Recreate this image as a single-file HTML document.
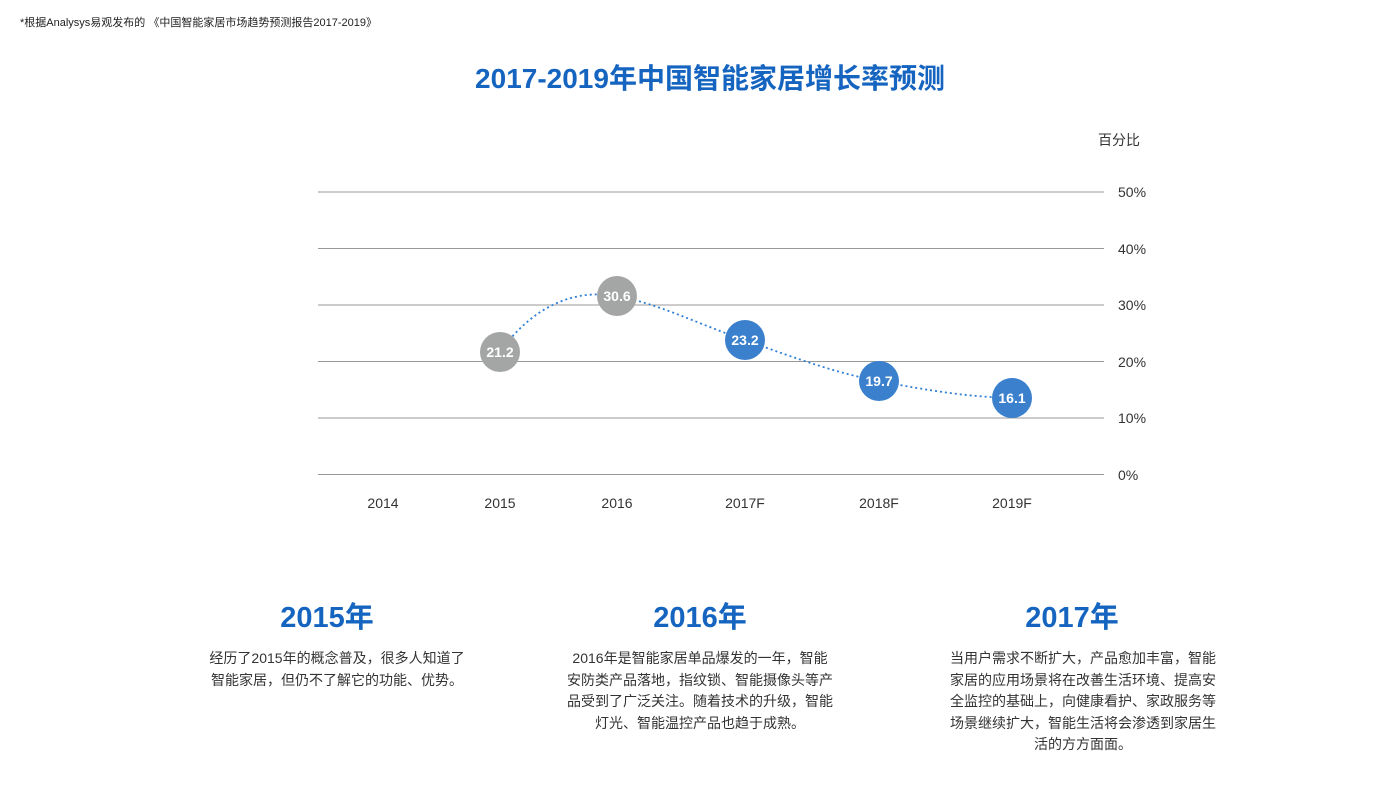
<!DOCTYPE html>
<html><head><meta charset="utf-8"><style>
body{margin:0;width:1400px;height:788px;background:#fff;position:relative;font-family:"Liberation Sans","Noto Sans CJK SC",sans-serif;overflow:hidden}
.a{position:absolute}
.h{position:absolute;color:#1565c0;font-weight:bold;font-size:29px;text-align:center;width:300px}
.p{position:absolute;font-size:14px;line-height:21.5px;color:#333;text-align:center;width:268px}
</style></head><body>
<div class="a" style="left:20px;top:14px;font-size:11px;color:#222">*根据Analysys易观发布的 《中国智能家居市场趋势预测报告2017-2019》</div>
<div class="a" style="left:0;width:1420px;top:57px;text-align:center;font-size:28px;font-weight:bold;color:#1565c0">2017-2019年中国智能家居增长率预测</div>
<svg class="a" style="left:0;top:0" width="1400" height="788">
<g stroke="#999" stroke-width="1">
<line x1="318" y1="192" x2="1104" y2="192"/><line x1="318" y1="248.5" x2="1104" y2="248.5"/><line x1="318" y1="305" x2="1104" y2="305"/><line x1="318" y1="361.5" x2="1104" y2="361.5"/><line x1="318" y1="418" x2="1104" y2="418"/><line x1="318" y1="474.5" x2="1104" y2="474.5"/>
</g>
<g font-size="14" fill="#333" font-family="Liberation Sans, Noto Sans CJK SC, sans-serif">
<text x="1118" y="197">50%</text><text x="1118" y="254">40%</text><text x="1118" y="310">30%</text><text x="1118" y="367">20%</text><text x="1118" y="423">10%</text><text x="1118" y="480">0%</text>
<text x="1098" y="145">百分比</text>
<g text-anchor="middle"><text x="383" y="508">2014</text><text x="500" y="508">2015</text><text x="617" y="508">2016</text><text x="745" y="508">2017F</text><text x="879" y="508">2018F</text><text x="1012" y="508">2019F</text></g>
</g>
<path d="M500,352 C530,310 570,288 617,296 C660,304 700,325 745,340 C800,360 840,374 879,381 C930,391 970,397 1012,398" fill="none" stroke="#2f7fd6" stroke-width="1.8" stroke-dasharray="2,3"/>
<g font-size="14" font-weight="bold" fill="#fff" text-anchor="middle" font-family="Liberation Sans, sans-serif">
<circle cx="500" cy="352" r="20" fill="#a4a6a5"/><text x="500" y="357">21.2</text>
<circle cx="617" cy="296" r="20" fill="#a4a6a5"/><text x="617" y="301">30.6</text>
<circle cx="745" cy="340" r="20" fill="#3a80cd"/><text x="745" y="345">23.2</text>
<circle cx="879" cy="381" r="20" fill="#3a80cd"/><text x="879" y="386">19.7</text>
<circle cx="1012" cy="398" r="20" fill="#3a80cd"/><text x="1012" y="403">16.1</text>
</g>
</svg>
<div class="h" style="left:177px;top:594px">2015年</div>
<div class="h" style="left:550px;top:594px">2016年</div>
<div class="h" style="left:922px;top:594px">2017年</div>
<div class="p" style="left:203px;top:648px">经历了2015年的概念普及，很多人知道了智能家居，但仍不了解它的功能、优势。</div>
<div class="p" style="left:566px;top:648px">2016年是智能家居单品爆发的一年，智能安防类产品落地，指纹锁、智能摄像头等产品受到了广泛关注。随着技术的升级，智能灯光、智能温控产品也趋于成熟。</div>
<div class="p" style="left:949px;top:648px">当用户需求不断扩大，产品愈加丰富，智能家居的应用场景将在改善生活环境、提高安全监控的基础上，向健康看护、家政服务等场景继续扩大，智能生活将会渗透到家居生活的方方面面。</div>
</body></html>
